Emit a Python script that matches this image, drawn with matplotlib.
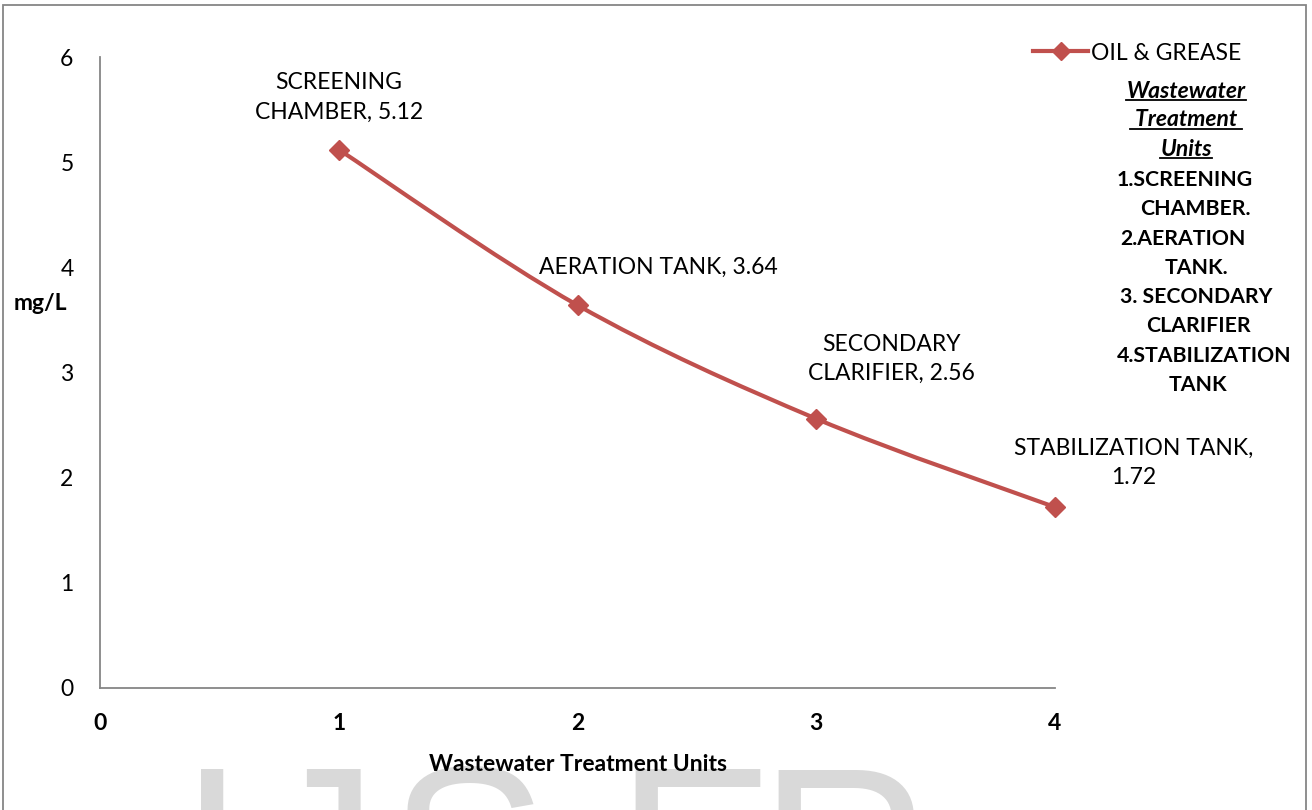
import numpy as np
import matplotlib
matplotlib.use("Agg")
import matplotlib.pyplot as plt
from matplotlib.path import Path
from matplotlib.patches import PathPatch, Rectangle
from matplotlib.lines import Line2D

# data
units = [1, 2, 3, 4]
oil_grease = [5.12, 3.64, 2.56, 1.72]
unit_names = ["SCREENING\nCHAMBER", "AERATION TANK", "SECONDARY\nCLARIFIER", "STABILIZATION TANK,\n"]
series_name = "OIL & GREASE"
x_ticks = [0, 1, 2, 3, 4]
y_ticks = [0, 1, 2, 3, 4, 5, 6]
side_title = ["Wastewater", " Treatment ", "Units"]
side_lines = ["1.SCREENING", "CHAMBER.", "2.AERATION", "TANK.",
              "3. SECONDARY", "CLARIFIER", "4.STABILIZATION", "TANK"]

plt.rcParams['font.family'] = ['Lato', 'DejaVu Sans']
red = "#C0504D"
grey = "#868686"
fs = 16.5

W, H = 1312, 810
fig = plt.figure(figsize=(W / 100, H / 100), dpi=100)
ax = fig.add_axes([100 / W, 1 - 688 / H, 955 / W, 631 / H])
ax.set_xlim(0, 4)
ax.set_ylim(0, 6)
ax.patch.set_alpha(0)

for s in ["top", "right"]:
    ax.spines[s].set_visible(False)
for s in ["left", "bottom"]:
    ax.spines[s].set_color(grey)
    ax.spines[s].set_linewidth(1.3)

ax.set_xticks(x_ticks)
ax.set_yticks(y_ticks)
ax.tick_params(length=0)
ax.tick_params(axis="x", pad=18, labelsize=fs)
ax.tick_params(axis="y", pad=19, labelsize=fs)
for t in ax.get_xticklabels():
    t.set_fontweight("bold")

ax.set_xlabel("Wastewater Treatment Units", fontsize=fs, fontweight="bold")
ax.xaxis.set_label_coords(0.501, -0.104)
ax.set_ylabel("mg/L", fontsize=fs, fontweight="bold", rotation=0, ha="center", va="center")
ax.yaxis.set_label_coords(-0.062, 0.61)

# smoothed line (Excel style cubic bezier through points)
pts = np.column_stack([units, oil_grease]).astype(float)
ext = np.vstack([pts[0], pts, pts[-1]])
verts = [tuple(pts[0])]
codes = [Path.MOVETO]
for i in range(len(pts) - 1):
    p0, p1, p2, p3 = ext[i], ext[i + 1], ext[i + 2], ext[i + 3]
    c1 = p1 + (p2 - p0) / 6
    c2 = p2 - (p3 - p1) / 6
    verts += [tuple(c1), tuple(c2), tuple(p2)]
    codes += [Path.CURVE4] * 3
ax.add_patch(PathPatch(Path(verts, codes), fill=False, edgecolor=red, lw=3, capstyle="round", zorder=3))
ax.plot(units, oil_grease, linestyle="none", marker="D", markersize=10, color=red, zorder=4, clip_on=False)

# data labels
offsets = [(0, 52), (81, 38), (75, 60), (79, 44)]
for xv, yv, name, off in zip(units, oil_grease, unit_names, offsets):
    ax.annotate(f"{name}, {yv:.2f}" if not name.endswith("\n") else f"{name}{yv:.2f}",
                xy=(xv, yv), xytext=off, textcoords="offset pixels",
                ha="center", va="center", fontsize=fs, linespacing=1.5,
                annotation_clip=False)

# legend
handle = Line2D([], [], color=red, lw=3, marker="D", markersize=9)
fig.legend([handle], [series_name], loc="center left",
           bbox_to_anchor=(1033 / W, 1 - 53 / H), frameon=False,
           fontsize=fs, handlelength=2.4, handletextpad=0.15, borderpad=0, borderaxespad=0)

# side text block
title_y = [91, 120, 149]
txts = []
for s, y in zip(side_title, title_y):
    t = fig.text(1186 / W, 1 - y / H, s, ha="center", va="center", fontsize=16.5,
                 fontweight="bold", style="italic")
    txts.append(t)
line_y = [180, 209, 239, 268, 297, 326, 356, 385]
line_x = [1185, 1195, 1183, 1196, 1196, 1198, 1204, 1198]
for s, x, y in zip(side_lines, line_x, line_y):
    fig.text(x / W, 1 - y / H, s, ha="center", va="center", fontsize=15.3, fontweight="bold")

fig.canvas.draw()
r = fig.canvas.get_renderer()
for t in txts:
    bb = t.get_window_extent(r)
    fig.add_artist(Line2D([bb.x0, bb.x1], [bb.y0 + 2, bb.y0 + 2], color="black", lw=1.3,
                          transform=None))

# watermark
for ch, cx in zip("IJSER", [212, 318, 468, 695, 845]):
    fig.text(cx / W, 1 - 760 / H, ch, ha="center", va="top", fontsize=172,
             color="#d9d9d9", family="Liberation Sans", zorder=-5)

# outer border
fig.add_artist(Rectangle((3 / W, -0.1), 1303 / W, 1.1 - 5 / H, transform=fig.transFigure,
                         fill=False, edgecolor=grey, lw=1.3))

fig.savefig("out.png", dpi=100)
